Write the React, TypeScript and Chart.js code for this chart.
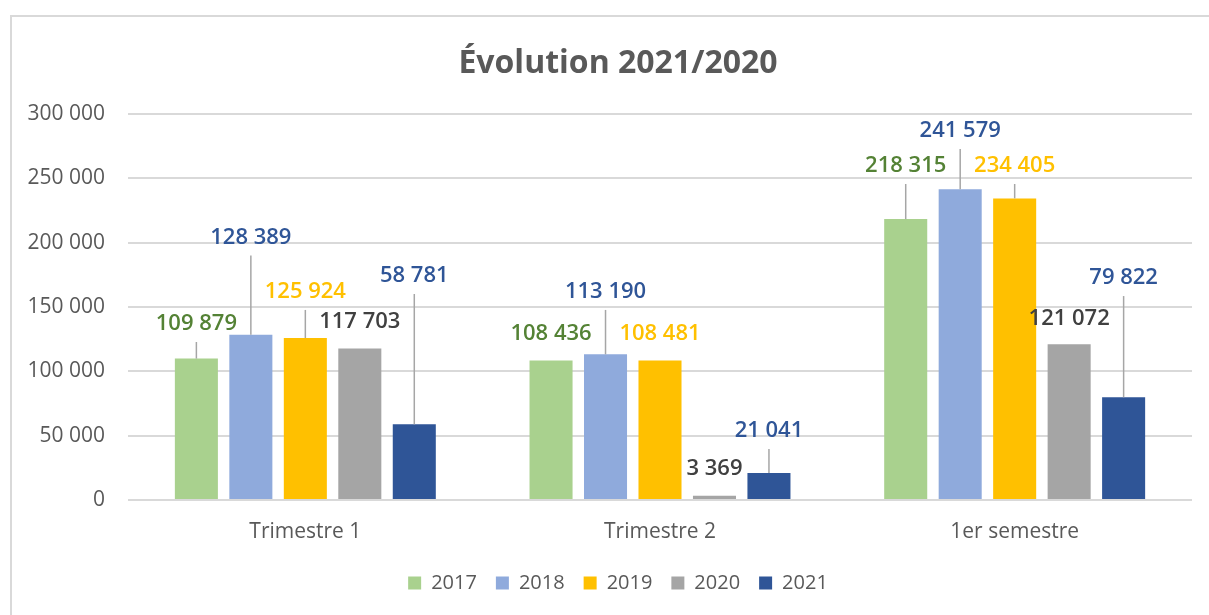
import React, { useEffect, useRef } from "react";
import { Chart, registerables } from "chart.js";

Chart.register(...registerables);

const categories = ["Trimestre 1", "Trimestre 2", "1er semestre"];
const seriesNames = ["2017", "2018", "2019", "2020", "2021"];
const values2017 = [109879, 108436, 218315];
const values2018 = [128389, 113190, 241579];
const values2019 = [125924, 108481, 234405];
const values2020 = [117703, 3369, 121072];
const values2021 = [58781, 21041, 79822];
// height (in value units) at which each data label sits
const labelAt2017 = [136800, 129000, 259600];
const labelAt2018 = [204000, 161700, 286800];
const labelAt2019 = [161700, 129000, 259600];
const labelAt2020 = [138300, 24100, 140700];
const labelAt2021 = [174100, 53600, 172500];
const yTicks = [0, 50000, 100000, 150000, 200000, 250000, 300000];

const barColors = ["#A9D18E", "#8FAADC", "#FFC000", "#A5A5A5", "#2F5597"];
const labelColors = ["#548235", "#2F5597", "#FFC000", "#404040", "#2F5597"];

const fmt = (v: number) =>
  String(Math.round(v)).replace(/\B(?=(\d{3})+(?!\d))/g, " ");

const FONT = "'Open Sans', 'Noto Sans', sans-serif";

export default function App() {
  const ref = useRef<HTMLCanvasElement | null>(null);

  useEffect(() => {
    if (!ref.current) return;
    const allValues = [values2017, values2018, values2019, values2020, values2021];
    const labelAt = [labelAt2017, labelAt2018, labelAt2019, labelAt2020, labelAt2021];

    const frame = {
      id: "frame",
      beforeDraw(chart: any) {
        const ctx = chart.ctx;
        ctx.save();
        ctx.fillStyle = "#ffffff";
        ctx.fillRect(0, 0, chart.width, chart.height);
        ctx.strokeStyle = "#D9D9D9";
        ctx.lineWidth = 2;
        ctx.beginPath();
        ctx.moveTo(11, chart.height);
        ctx.lineTo(11, 16);
        ctx.lineTo(chart.width, 16);
        ctx.stroke();
        ctx.restore();
      },
    };

    const dataLabels = {
      id: "dataLabels",
      afterDatasetsDraw(chart: any) {
        const ctx = chart.ctx;
        const yScale = chart.scales.y;
        ctx.save();
        chart.data.datasets.forEach((ds: any, i: number) => {
          const meta = chart.getDatasetMeta(i);
          meta.data.forEach((el: any, j: number) => {
            const x = el.x;
            const top = el.y;
            const ly = yScale.getPixelForValue(labelAt[i][j]);
            const lineTop = ly + 18;
            if (top - lineTop > 10) {
              ctx.strokeStyle = "#A6A6A6";
              ctx.lineWidth = 1.5;
              ctx.beginPath();
              ctx.moveTo(x, top);
              ctx.lineTo(x, lineTop);
              ctx.stroke();
            }
            ctx.fillStyle = labelColors[i];
            ctx.font = `600 22px ${FONT}`;
            ctx.textAlign = "center";
            ctx.textBaseline = "middle";
            ctx.fillText(fmt(ds.data[j]), x, ly);
          });
        });
        ctx.restore();
      },
    };

    const chart = new Chart(ref.current, {
      type: "bar",
      data: {
        labels: categories,
        datasets: seriesNames.map((name, i) => ({
          label: name,
          data: allValues[i],
          backgroundColor: barColors[i],
          borderWidth: 0,
          categoryPercentage: 0.768,
          barPercentage: 0.79,
        })),
      },
      options: {
        responsive: false,
        animation: false,
        layout: { padding: { left: 44, right: 17, top: 0, bottom: 12 } },
        plugins: {
          title: {
            display: true,
            text: "Évolution 2021/2020",
            color: "#595959",
            font: { family: FONT, size: 32, weight: "bold" },
            padding: { top: 45, bottom: 30.6 },
          },
          legend: {
            display: true,
            position: "bottom",
            labels: {
              color: "#595959",
              font: { family: FONT, size: 20 },
              boxWidth: 13,
              boxHeight: 13,
              padding: 19,
            },
          },
          tooltip: { enabled: false },
        },
        scales: {
          x: {
            grid: { display: false, drawTicks: false },
            border: { display: false },
            ticks: {
              color: "#595959",
              font: { family: FONT, size: 21 },
              padding: 19,
            },
            afterFit: (s: any) => {
              s.height = 54;
            },
          },
          y: {
            min: 0,
            max: 300000,
            grid: { color: "#D9D9D9", lineWidth: 2, drawTicks: false },
            border: { display: false },
            afterBuildTicks: (s: any) => {
              s.ticks = yTicks.map((v) => ({ value: v }));
            },
            ticks: {
              color: "#595959",
              font: { family: FONT, size: 21 },
              padding: 23,
              callback: (v: any) => fmt(Number(v)),
            },
            afterFit: (s: any) => {
              s.width = 84;
              // let the tick labels extend left of the axis box without clipping
              s._computeLabelArea = () => undefined;
            },
          },
        },
      },
      plugins: [frame, dataLabels],
    });
    return () => chart.destroy();
  }, []);

  return (
    <div style={{ position: "absolute", left: 0, top: 0, width: 1209, height: 615 }}>
      <canvas ref={ref} width={1209} height={615} style={{ display: "block" }} />
    </div>
  );
}
